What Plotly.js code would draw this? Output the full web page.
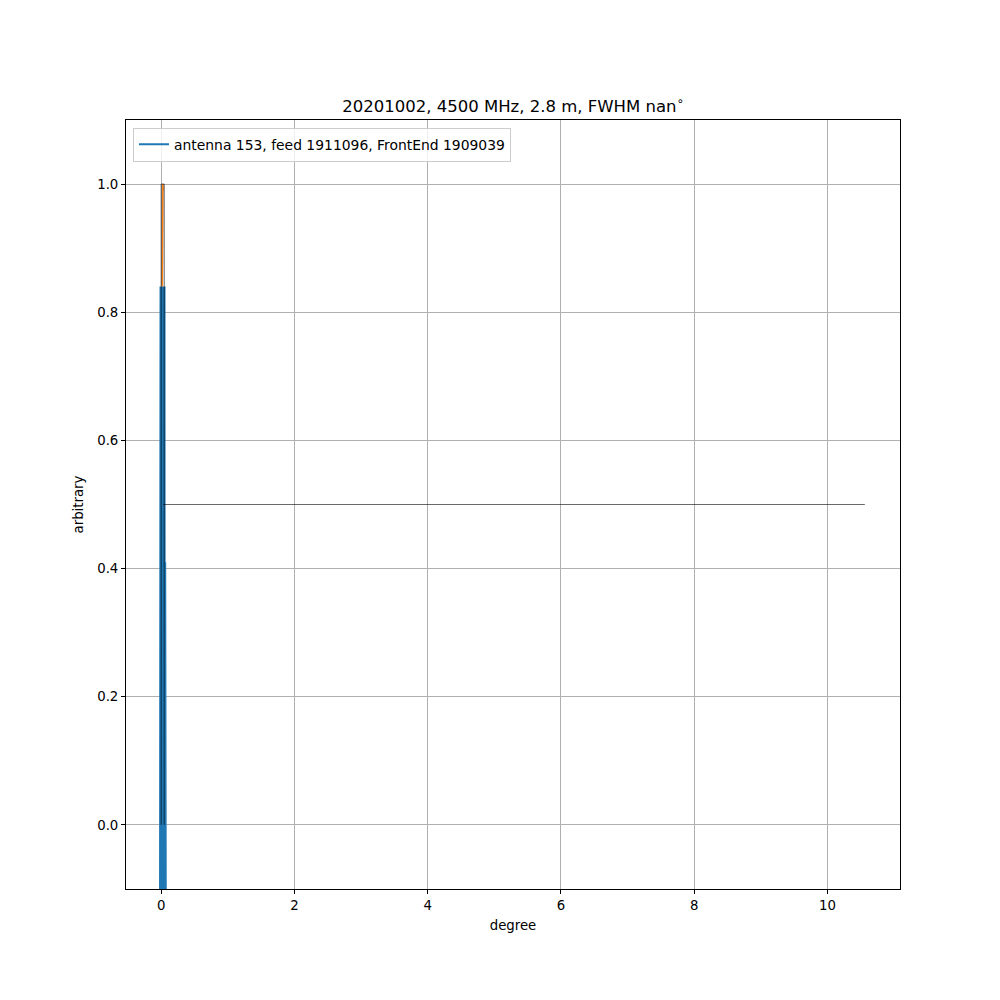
<!DOCTYPE html>
<html>
<head>
<meta charset="utf-8">
<script src="https://cdn.plot.ly/plotly-3.0.1.min.js"></script>
<style>body{margin:0;background:#fff}</style>
</head>
<body>
<div id="chart" style="width:1000px;height:1000px"></div>
<script>
// Blue beam data (noisy, squeezed near x = 0)
const beamX = [-0.02, -0.01, 0.0, 0.01, 0.02, 0.03, 0.04, 0.05, 0.055, 0.06, 0.065, 0.07, 0.075];
const beamY = [-0.5, 0.84, -0.5, 0.84, -0.5, 0.84, -0.5, 0.84, -0.5, 0.41, -0.5, 0.0, -0.5];
// Orange fitted peak
const fitX = [0.015, 0.02, 0.025, 0.03];
const fitY = [0.84, 1.0, 1.0, 0.99];
// FWHM marker (black)
const fwhmX = [0.0, 0.0, 0.045, 0.045, 0.03, 10.56];
const fwhmY = [0.0, 1.0, 1.0, 0.0, 0.5, 0.5];
const titleText = '20201002, 4500 MHz, 2.8 m, FWHM nan<sup>∘</sup>';
const legendLabel = 'antenna 153, feed 1911096, FrontEnd 1909039';
const xTicks = [0, 2, 4, 6, 8, 10];
const yTicks = [0.0, 0.2, 0.4, 0.6, 0.8, 1.0];

const font = {family: 'DejaVu Sans', size: 13.3, color: '#000'};
const legendFont = {family: 'DejaVu Sans', size: 13.9, color: '#000'};
const traces = [
  {x: beamX, y: beamY, mode: 'lines', name: legendLabel, line: {color: '#1f77b4', width: 2}, showlegend: true},
  {x: fitX, y: fitY, mode: 'lines', line: {color: '#ff7f0e', width: 1.5}, showlegend: false},
  {x: fwhmX.slice(0, 4), y: fwhmY.slice(0, 4), mode: 'lines', line: {color: '#000', width: 0.8}, showlegend: false, opacity: 0.8},
  {x: fwhmX.slice(4), y: fwhmY.slice(4), mode: 'lines', line: {color: '#000', width: 0.7}, showlegend: false, opacity: 0.85}
];
const layout = {
  width: 1000, height: 1000,
  paper_bgcolor: '#fff', plot_bgcolor: '#fff',
  margin: {l: 126, r: 100, t: 120, b: 111, pad: 0},
  font: font,
  title: {text: titleText, font: {family: 'DejaVu Sans', size: 16.5, color: '#000'}, x: 0.513, xanchor: 'center', y: 0.888, yanchor: 'bottom'},
  showlegend: true,
  legend: {x: 0.009, y: 0.99, xanchor: 'left', yanchor: 'top', bgcolor: 'rgba(255,255,255,0.8)', bordercolor: '#cccccc', borderwidth: 1, font: legendFont, itemwidth: 30, tracegroupgap: 0},
  xaxis: {
    range: [-0.528, 11.088], tickvals: xTicks, ticktext: xTicks.map(String),
    showgrid: true, gridcolor: '#b0b0b0', gridwidth: 1, zeroline: false,
    showline: true, linecolor: '#000', linewidth: 1, mirror: true,
    ticks: 'outside', ticklen: 4, tickcolor: '#000',
    title: {text: 'degree', font: font, standoff: 8}
  },
  yaxis: {
    range: [-0.1, 1.1], tickvals: yTicks, ticktext: yTicks.map(v => v.toFixed(1)),
    showgrid: true, gridcolor: '#b0b0b0', gridwidth: 1, zeroline: false,
    showline: true, linecolor: '#000', linewidth: 1, mirror: true,
    ticks: 'outside', ticklen: 4, tickcolor: '#000',
    title: {text: 'arbitrary', font: font, standoff: 10}
  }
};
Plotly.newPlot('chart', traces, layout, {displayModeBar: false, staticPlot: true});
</script>
</body>
</html>
